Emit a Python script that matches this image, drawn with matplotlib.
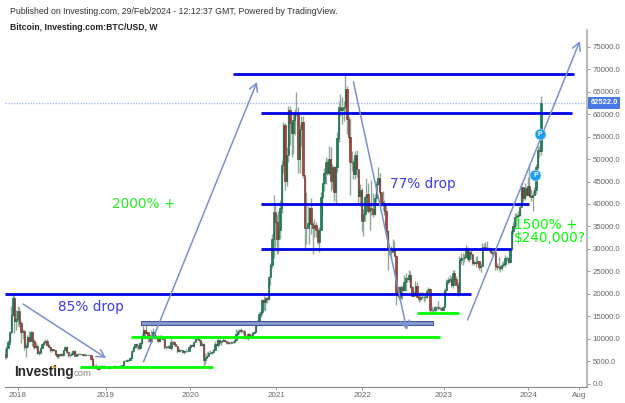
#!/usr/bin/env python3
"""Bitcoin weekly candlestick chart with hand drawn levels and arrows"""

import numpy as np
import matplotlib
matplotlib.use('Agg')
import matplotlib.pyplot as plt
from matplotlib.lines import Line2D

plt.rcParams['font.family'] = ['Liberation Sans', 'DejaVu Sans']

# weekly closes, week 0 is the first week of 2018
closes = [
    5870, 8000, 9300, 11500, 15200, 19100, 14000, 14300,
    # 2018
    16200, 13600, 11500, 11700, 8200, 8500, 10300, 9600, 11400, 9500,
    8200, 8500, 6900, 7000, 8000, 8900, 9300, 9600, 8700, 8200,
    7400, 7700, 7500, 6500, 6100, 6300, 6700, 6300, 7400, 8200,
    7000, 6300, 6400, 6700, 7200, 6200, 6500, 6700, 6600, 6600,
    6300, 6400, 6400, 6400, 6400, 5600, 3900, 4000, 3500, 3200,
    4000, 3900, 4000,
    # 2019
    3600, 3550, 3550, 3450, 3650, 3650, 3850, 3850, 3900, 4000,
    4000, 4150, 5050, 5100, 5300, 5300, 5750, 7250, 8200, 8750,
    8550, 8000, 8950, 10700, 12000, 11300, 11400, 10800, 9500, 10500,
    11500, 10300, 10150, 9600, 10400, 10300, 10050, 8200, 8150, 8300,
    7950, 9250, 9200, 8800, 8500, 7300, 7400, 7500, 7100, 7200,
    7300, 7350,
    # 2020
    8200, 8700, 8350, 9350, 9900, 9900, 9700, 8550, 8900, 5200,
    5800, 6250, 6800, 6900, 7100, 7550, 8900, 8700, 9700, 9200,
    9450, 9750, 9450, 9300, 9000, 9050, 9300, 9200, 9700, 11000,
    11700, 11850, 11650, 11700, 10250, 10300, 11100, 10700, 10650, 11300,
    11500, 13100, 13800, 15500, 16000, 18700, 18200, 19100, 18800, 23800,
    26500, 32200,
    # 2021
    38200, 36000, 32100, 34300, 39200, 48600, 57500, 45200, 51000, 61000,
    58000, 55800, 58700, 60000, 60000, 50100, 56600, 58200, 46500, 34700,
    34600, 35800, 39000, 35600, 34700, 35300, 34300, 31500, 34300, 41500,
    44600, 47000, 49300, 47000, 49900, 45100, 48300, 42700, 48200, 54700,
    61500, 60900, 61300, 61500, 65500, 59000, 54800, 49300, 49300, 46700,
    50800, 47700,
    # 2022
    41800, 43100, 36300, 37700, 41600, 42200, 38400, 39100, 38800, 37800,
    41300, 44500, 45800, 42700, 40400, 39700, 38500, 34000, 30300, 29400,
    29400, 29900, 28400, 20500, 21500, 19300, 21600, 20800, 22600, 23600,
    23200, 24300, 21500, 19600, 20000, 21800, 19400, 18800, 19300, 19400,
    19300, 19200, 20600, 21000, 16300, 16300, 16500, 17100, 17100, 16800,
    16800, 16500,
    # 2023
    17100, 20900, 22700, 23000, 23300, 21900, 24600, 23200, 22000, 20500,
    27500, 28000, 28000, 28300, 30300, 27800, 29300, 28900, 26800, 27100,
    26800, 27200, 25900, 26300, 30500, 30500, 30200, 30300, 30000, 29400,
    29000, 29300, 26100, 26000, 25900, 25800, 26500, 26600, 28000, 27900,
    27100, 29900, 34000, 35000, 37000, 37400, 37500, 39400, 43700, 41300,
    43600, 42100,
    # 2024
    43900, 41700, 41600, 42000, 43000, 48300, 52100, 51700, 62522,
]

highs = [
    7900, 8300, 9700, 11800, 17200, 19700, 19500, 16500,
    # 2018
    17200, 17100, 14000, 12200, 11900, 9000, 10900, 11700, 11700, 11700,
    9900, 9200, 8900, 7500, 8200, 9000, 9700, 9900, 9900, 8900,
    8500, 7800, 7800, 7600, 6800, 6500, 6900, 6800, 7500, 8500,
    8300, 7200, 6600, 7100, 7400, 7400, 6600, 6800, 6800, 6700,
    6700, 6800, 6500, 6500, 6500, 6400, 5700, 4300, 4300, 3600,
    4200, 4200, 4100,
    # 2019
    4100, 3700, 3650, 3600, 3700, 3750, 4200, 3950, 3950, 4050,
    4100, 4200, 5300, 5350, 5500, 5650, 5850, 7500, 8300, 8900,
    9100, 8200, 9300, 11200, 13800, 12000, 13200, 11100, 10700, 12000,
    12300, 11900, 10900, 10800, 10900, 10900, 10300, 10100, 8500, 8700,
    8700, 10500, 9600, 9400, 8900, 8500, 7900, 7800, 7450, 7500,
    7700, 7500,
    # 2020
    8500, 8900, 8900, 9500, 10200, 10500, 10300, 9900, 9200, 9150,
    6900, 7000, 7300, 7450, 7300, 7800, 9500, 10000, 10000, 9900,
    9600, 10400, 10000, 9600, 9500, 9300, 9400, 9400, 9800, 12100,
    11900, 12100, 12500, 12050, 12050, 10900, 11200, 11200, 11000, 11500,
    11750, 13200, 14100, 15900, 16300, 18800, 19500, 19400, 19400, 23900,
    26900, 33400,
    # 2021
    41900, 40100, 37800, 38500, 40900, 49700, 58300, 58000, 52600, 61700,
    61700, 58400, 60000, 61200, 64900, 61500, 57900, 59500, 59500, 45800,
    42600, 39500, 39400, 41300, 36000, 36700, 35900, 34600, 34800, 42600,
    44700, 47900, 50500, 49900, 52900, 52700, 48800, 48500, 49000, 56000,
    62900, 64500, 63700, 63000, 69000, 66300, 59500, 59000, 51900, 50000,
    51900, 52100,
    # 2022
    47500, 44400, 43500, 38900, 41900, 45800, 44700, 40000, 45400, 42500,
    42300, 45100, 48200, 47000, 42400, 42900, 40800, 40000, 34200, 31400,
    30600, 32300, 31700, 28600, 21800, 21500, 22000, 21800, 24200, 24600,
    23700, 25200, 25100, 21800, 20600, 22800, 22700, 19700, 20300, 20400,
    20000, 19700, 21000, 21500, 21400, 17200, 16900, 17400, 17400, 18300,
    17000, 16900,
    # 2023
    17400, 21200, 23300, 23800, 24200, 23900, 25200, 25200, 23900, 22600,
    28400, 29000, 29200, 28800, 30900, 30500, 30000, 29700, 28800, 27500,
    28500, 28400, 27000, 26800, 31400, 31400, 31500, 31800, 30400, 30300,
    29700, 30200, 29700, 26800, 28100, 26500, 27000, 27400, 28600, 28500,
    27900, 30300, 35200, 35900, 38000, 37900, 38400, 39700, 44700, 43400,
    44700, 43800,
    # 2024
    45900, 48900, 43400, 42800, 43800, 48900, 52800, 52900, 64000,
]

lows = [
    5500, 5700, 8000, 8700, 11100, 15000, 11200, 12000,
    # 2018
    12800, 12600, 9000, 9900, 7600, 6000, 8000, 9300, 9400, 8400,
    7700, 7800, 6700, 6400, 6600, 7900, 8700, 8900, 8400, 7900,
    7100, 7000, 7300, 6400, 5800, 5800, 6200, 6100, 6200, 7700,
    6900, 5900, 6000, 6300, 6700, 6100, 6100, 6200, 6400, 6300,
    6100, 6200, 6300, 6300, 6300, 5300, 3500, 3600, 3300, 3100,
    3200, 3600, 3600,
    # 2019
    3500, 3450, 3450, 3350, 3400, 3550, 3600, 3700, 3700, 3800,
    3900, 3950, 4100, 4950, 5100, 5100, 5300, 5700, 7000, 7900,
    7900, 7450, 7700, 8900, 10300, 10000, 11000, 9300, 9200, 9100,
    10400, 10000, 9900, 9350, 9600, 9900, 9800, 7800, 7700, 8000,
    7850, 7400, 8800, 8500, 8400, 6800, 7000, 7200, 7000, 6500,
    7100, 7150,
    # 2020
    7650, 8000, 8300, 8250, 9200, 9700, 9300, 8500, 8500, 3800,
    4400, 5800, 6200, 6600, 6500, 6800, 7450, 8600, 8200, 8800,
    8650, 9400, 9200, 8900, 8850, 8900, 9000, 9050, 9100, 9600,
    10900, 11150, 11200, 11100, 9900, 9900, 9800, 10100, 10350, 10500,
    11200, 11400, 12900, 13200, 14800, 15400, 16300, 16200, 18000, 18600,
    21900, 25800,
    # 2021
    28000, 30400, 28900, 29200, 32300, 38000, 47000, 43000, 43900, 49300,
    53200, 50400, 51200, 55400, 59500, 47000, 47000, 53000, 45800, 30000,
    31100, 34900, 31000, 33400, 28800, 32700, 32700, 31000, 29300, 34100,
    37300, 42800, 44400, 46400, 46500, 42800, 43400, 40700, 39700, 47100,
    53900, 59500, 57800, 58500, 60000, 55600, 53500, 42000, 47300, 45600,
    45500, 46000,
    # 2022
    39700, 39600, 34000, 32900, 36200, 41600, 38000, 34300, 37500, 37200,
    37600, 40500, 44300, 42100, 39500, 38600, 37600, 33500, 25400, 28700,
    28000, 29300, 28400, 17600, 19600, 18600, 18900, 18900, 20700, 20700,
    22700, 22700, 21400, 19500, 19500, 19600, 19300, 18200, 18500, 18900,
    18200, 18700, 19000, 20100, 15500, 15800, 15500, 16000, 16700, 16300,
    16400, 16300,
    # 2023
    16500, 17300, 20500, 22300, 22700, 21500, 21400, 22800, 21900, 19600,
    20100, 26700, 26500, 27100, 28100, 27200, 27000, 27700, 26400, 26400,
    25900, 26600, 25400, 24800, 26200, 29700, 29700, 29700, 29600, 29100,
    28700, 28800, 25400, 25400, 25400, 24900, 25200, 26000, 26000, 27200,
    26600, 26900, 29700, 33400, 34500, 35100, 36700, 37400, 39500, 40500,
    40900, 41700,
    # 2024
    42000, 41500, 40600, 38500, 41900, 42300, 47700, 50500, 50900,
]

first_open = 6700
first_week = -8

# axis ticks
x_tick_weeks = [0, 53.9, 105.7, 158.5, 211.3, 261.5, 313.2, 344.2]
x_tick_labels = ['2018', '2019', '2020', '2021', '2022', '2023', '2024', 'Aug']
y_ticks = list(range(0, 75001, 5000))
last_price = 62522

# drawn levels: price, start week, end week
blue_levels = [68930, 60140, 40060, 30050, 20030]
blue_starts = [132.1, 149.3, 149.3, 149.3, -7.8]
blue_ends = [341.3, 339.9, 314.0, 302.4, 278.0]
green_levels = [3780, 10460, 15670]
green_starts = [38.2, 69.5, 245.0]
green_ends = [119.8, 259.1, 270.9]
band_low, band_high = 13100, 13950
band_start, band_end = 75.6, 254.6

# arrows: (week, price) to (week, price)
arrow_tails = [(3.3, 17730), (77.2, 4900), (206.0, 67150), (276.0, 14180)]
arrow_heads = [(54.2, 5720), (146.8, 67150), (238.8, 11950), (344.9, 76270)]

# publish pins on the last candles
pin_weeks = [320.4, 317.7]
pin_prices = [55570, 46340]

BLUE = '#0000e6'
GREEN = '#00ff00'
ARROW = '#7b90cf'
TEXT_BLUE = '#3b3bf0'
TICK_GREY = '#666666'


def main():
    fig = plt.figure(figsize=(6.25, 4.03), dpi=100)
    # plot area sits at x 5..587, y 30..387 in pixels from the top left
    ax = fig.add_axes([5 / 625, 1 - 387 / 403, 582 / 625, 357 / 403])
    ax.set_xlim(-7.8, 349.3)
    ax.set_ylim(-734, 78720)

    # candles
    weeks = np.arange(len(closes)) + first_week
    close_arr = np.array(closes, dtype=float)
    open_arr = np.r_[first_open, close_arr[:-1]]
    up = close_arr >= open_arr
    colors = np.where(up, '#17855a', '#a8443a')
    edges = np.where(up, '#0d5c3c', '#6e2a24')
    ax.vlines(weeks, lows, highs, colors='#8fa99c', linewidth=1.0, zorder=2)
    ax.bar(weeks, np.abs(close_arr - open_arr), bottom=np.minimum(open_arr, close_arr),
           width=0.85, color=colors, edgecolor=edges, linewidth=0.4, zorder=3)

    # last price line and label
    ax.axhline(last_price, color='#a9bcf5', linewidth=1.0, linestyle=(0, (1, 1)), zorder=1)

    # levels
    ax.hlines(blue_levels, blue_starts, blue_ends, colors=BLUE, linewidth=2.0, zorder=4)
    ax.hlines(green_levels, green_starts, green_ends, colors=GREEN, linewidth=2.0, zorder=4)
    ax.fill_between([band_start, band_end], band_low, band_high, facecolor='#8498cc',
                    edgecolor='#3c5296', linewidth=0.7, zorder=4)

    # arrows
    for tail, head in zip(arrow_tails, arrow_heads):
        ax.annotate('', xy=head, xytext=tail, zorder=5,
                    arrowprops=dict(arrowstyle='->,head_length=0.55,head_width=0.3',
                                    color=ARROW, linewidth=1.1, shrinkA=0, shrinkB=0))

    # notes
    note_font = ['DejaVu Sans']
    ax.text(24.7, 17070, '85% drop', color=TEXT_BLUE, fontsize=9.8, family=note_font,
            va='center', ha='left', zorder=6)
    ax.text(228.4, 44450, '77% drop', color=TEXT_BLUE, fontsize=9.8, family=note_font,
            va='center', ha='left', zorder=6)
    ax.text(57.9, 40000, '2000% +', color='#22ee22', fontsize=9.8, family=note_font,
            va='center', ha='left', zorder=6)
    ax.text(304.5, 35320, '1500% +', color=GREEN, fontsize=9.8, family=note_font,
            va='center', ha='left', zorder=6)
    ax.text(304.5, 32430, '$240,000?', color=GREEN, fontsize=9.8, family=note_font,
            va='center', ha='left', zorder=6)

    # pins
    ax.scatter(pin_weeks, pin_prices, s=62, color='#1d9bf0', edgecolor='#bfe3fb',
               linewidth=0.4, zorder=7)
    for w, p in zip(pin_weeks, pin_prices):
        ax.text(w, p, 'P', color='white', fontsize=4.8, weight='bold',
                ha='center', va='center', zorder=8)

    # axes styling
    for side in ['left', 'top']:
        ax.spines[side].set_visible(False)
    ax.spines['right'].set_color('#b8b8b8')
    ax.spines['right'].set_linewidth(1.4)
    ax.spines['bottom'].set_color('#8a8a8a')
    ax.spines['bottom'].set_linewidth(0.8)
    ax.yaxis.tick_right()
    ax.set_yticks(y_ticks)
    ax.set_yticklabels([f'{v:.1f}' for v in y_ticks])
    ax.set_xticks(x_tick_weeks)
    ax.set_xticklabels(x_tick_labels)
    ax.tick_params(axis='y', length=2.5, width=0.6, color='#888888', labelsize=5.6,
                   labelcolor=TICK_GREY, pad=1.5)
    ax.tick_params(axis='x', length=2, width=0.6, color='#888888', labelsize=5.8,
                   labelcolor=TICK_GREY, pad=1.5)

    ax.annotate(f'{last_price:.1f}', xy=(1.0, last_price), xycoords=ax.get_yaxis_transform(),
                xytext=(2.5, 0), textcoords='offset points', color='white', fontsize=5.4,
                weight='bold', va='center', ha='left', zorder=9, annotation_clip=False,
                bbox=dict(boxstyle='square,pad=0.35', facecolor='#4a78e6', edgecolor='none'))

    # header and logo
    fig.text(10 / 625, 1 - 12 / 403, 'Published on Investing.com, 29/Feb/2024 - 12:12:37 GMT, '
             'Powered by TradingView.', fontsize=6.3, color='#333333', va='center', ha='left')
    fig.text(10 / 625, 1 - 27 / 403, 'Bitcoin, Investing.com:BTC/USD, W', fontsize=6.2,
             weight='bold', color='#222222', va='center', ha='left')
    fig.text(14 / 625, 1 - 372 / 403, 'Investing', fontsize=9.8, weight='bold',
             color='#2a2a2a', va='center', ha='left', zorder=10)
    fig.text(73.5 / 625, 1 - 373 / 403, 'com', fontsize=6.8, color='#8a8a8a',
             va='center', ha='left', zorder=10)
    fig.add_artist(Line2D([54 / 625], [1 - 366.5 / 403], marker='o', markersize=1.6,
                          color='#f0a030', transform=fig.transFigure))

    plt.savefig('out.png', dpi=100)
    plt.close()


if __name__ == "__main__":
    main()
